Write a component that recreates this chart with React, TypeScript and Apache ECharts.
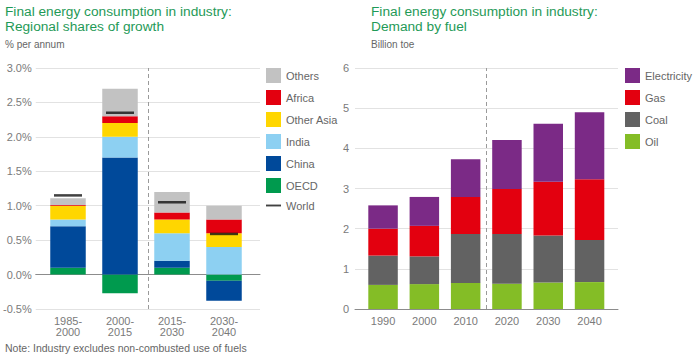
import React, { useEffect, useRef } from "react";
import * as echarts from "echarts";

// ---------- Left chart data: regional shares of growth (% per annum) ----------
const periods = ["1985-\n2000", "2000-\n2015", "2015-\n2030", "2030-\n2040"];
const oecd = [0.1, -0.27, 0.1, -0.09];
const china = [0.6, 1.7, 0.1, -0.29];
const india = [0.1, 0.3, 0.4, 0.4];
const otherAsia = [0.2, 0.2, 0.2, 0.2];
const africa = [0.01, 0.1, 0.1, 0.2];
const others = [0.1, 0.4, 0.3, 0.2];
const world = [1.15, 2.35, 1.05, 0.59];

// ---------- Right chart data: demand by fuel (billion toe) ----------
const years = ["1990", "2000", "2010", "2020", "2030", "2040"];
const oil = [0.6, 0.62, 0.65, 0.63, 0.66, 0.67];
const coal = [0.73, 0.69, 1.22, 1.24, 1.17, 1.05];
const gas = [0.67, 0.76, 0.92, 1.12, 1.34, 1.51];
const electricity = [0.58, 0.72, 0.94, 1.22, 1.44, 1.67];

// divider between history and projections, as a fraction of the plot width
const dividerFraction = 0.5;

const GREEN_TITLE = "#1f9a57";
const LABEL = "#7a7a7a";
const GRIDLINE = "#e2e2e2";
const AXISLINE = "#8c8c8c";
const FONT = "'Liberation Sans', Arial, sans-serif";

export default function App() {
  const ref = useRef<HTMLDivElement>(null);

  useEffect(() => {
    document.body.style.margin = "0";
    if (!ref.current) return;
    const chart = echarts.init(ref.current, null, { renderer: "svg" });

    const barCommon = (name: string, data: number[], color: string, xi: number, stack: string, width: number) => ({
      name,
      type: "bar",
      stack,
      data,
      xAxisIndex: xi,
      yAxisIndex: xi,
      barWidth: width,
      itemStyle: { color },
      emphasis: { disabled: true },
    });

    const option: any = {
      animation: false,
      textStyle: { fontFamily: FONT },
      title: [
        {
          text: "Final energy consumption in industry:\nRegional shares of growth",
          left: 5,
          top: 4,
          padding: 0,
          textStyle: { color: GREEN_TITLE, fontSize: 13.7, fontWeight: "normal", lineHeight: 15, fontFamily: FONT },
        },
        {
          text: "% per annum",
          left: 5,
          top: 39,
          padding: 0,
          textStyle: { color: "#666", fontSize: 10, fontWeight: "normal", fontFamily: FONT },
        },
        {
          text: "Final energy consumption in industry:\nDemand by fuel",
          left: 371,
          top: 4,
          padding: 0,
          textStyle: { color: GREEN_TITLE, fontSize: 13.7, fontWeight: "normal", lineHeight: 15, fontFamily: FONT },
        },
        {
          text: "Billion toe",
          left: 371,
          top: 39,
          padding: 0,
          textStyle: { color: "#666", fontSize: 10, fontWeight: "normal", fontFamily: FONT },
        },
        {
          text: "Note: Industry excludes non-combusted use of fuels",
          left: 5,
          top: 342,
          padding: 0,
          textStyle: { color: "#666", fontSize: 10.5, fontWeight: "normal", fontFamily: FONT },
        },
      ],
      legend: [
        {
          orient: "vertical",
          left: 266,
          top: 68,
          padding: 0,
          itemWidth: 15,
          itemHeight: 15,
          itemGap: 7,
          selectedMode: false,
          textStyle: { color: "#666", fontSize: 11, fontFamily: FONT },
          data: [
            { name: "Others", icon: "rect" },
            { name: "Africa", icon: "rect" },
            { name: "Other Asia", icon: "rect" },
            { name: "India", icon: "rect" },
            { name: "China", icon: "rect" },
            { name: "OECD", icon: "rect" },
            { name: "World", icon: "path://M0,0 L16,0 L16,2 L0,2 Z" },
          ],
        },
        {
          orient: "vertical",
          left: 625,
          top: 68,
          padding: 0,
          itemWidth: 15,
          itemHeight: 15,
          itemGap: 7,
          selectedMode: false,
          textStyle: { color: "#666", fontSize: 11, fontFamily: FONT },
          data: [
            { name: "Electricity", icon: "rect" },
            { name: "Gas", icon: "rect" },
            { name: "Coal", icon: "rect" },
            { name: "Oil", icon: "rect" },
          ],
        },
      ],
      grid: [
        // 0: left chart bars
        { left: 42, width: 208, top: 68, bottom: 50 },
        // 1: right chart bars
        { left: 362.4, width: 247.8, top: 68, bottom: 50 },
        // 2: left chart background (gridlines, zero line, divider)
        { left: 33, width: 227, top: 68, bottom: 50 },
        // 3: right chart background
        { left: 355, width: 263, top: 68, bottom: 50 },
      ],
      xAxis: [
        {
          type: "category",
          gridIndex: 0,
          data: periods,
          axisLine: { show: false },
          axisTick: { show: false },
          axisLabel: { color: LABEL, fontSize: 11, lineHeight: 11, margin: 6, fontFamily: FONT },
        },
        {
          type: "category",
          gridIndex: 1,
          data: years,
          axisLine: { show: false },
          axisTick: { show: false },
          axisLabel: { color: LABEL, fontSize: 11, margin: 6, fontFamily: FONT },
        },
        {
          type: "value",
          gridIndex: 2,
          min: 0,
          max: 1,
          axisLine: { show: true, onZero: true, lineStyle: { color: AXISLINE, width: 1 } },
          axisTick: { show: false },
          axisLabel: { show: false },
          splitLine: { show: false },
        },
        {
          type: "value",
          gridIndex: 3,
          min: 0,
          max: 1,
          axisLine: { show: true, onZero: true, lineStyle: { color: AXISLINE, width: 1 } },
          axisTick: { show: false },
          axisLabel: { show: false },
          splitLine: { show: false },
        },
      ],
      yAxis: [
        {
          type: "value",
          gridIndex: 0,
          min: -0.5,
          max: 3,
          interval: 0.5,
          axisLine: { show: false },
          axisTick: { show: false },
          axisLabel: { show: false },
          splitLine: { show: false },
        },
        {
          type: "value",
          gridIndex: 1,
          min: 0,
          max: 6,
          interval: 1,
          axisLine: { show: false },
          axisTick: { show: false },
          axisLabel: { show: false },
          splitLine: { show: false },
        },
        {
          type: "value",
          gridIndex: 2,
          min: -0.5,
          max: 3,
          interval: 0.5,
          axisLine: { show: false },
          axisTick: { show: false },
          axisLabel: {
            color: LABEL,
            fontSize: 11,
            margin: 4,
            fontFamily: FONT,
            formatter: (v: number) => v.toFixed(1) + "%",
          },
          splitLine: { show: true, lineStyle: { color: GRIDLINE, width: 1 } },
        },
        {
          type: "value",
          gridIndex: 3,
          min: 0,
          max: 6,
          interval: 1,
          axisLine: { show: false },
          axisTick: { show: false },
          axisLabel: { color: LABEL, fontSize: 11, margin: 6, fontFamily: FONT },
          splitLine: { show: true, lineStyle: { color: GRIDLINE, width: 1 } },
        },
      ],
      series: [
        // background helpers with the divider line
        {
          type: "line",
          xAxisIndex: 2,
          yAxisIndex: 2,
          data: [],
          silent: true,
          markLine: {
            silent: true,
            symbol: "none",
            label: { show: false },
            lineStyle: { color: "#9a9a9a", type: [4, 3], width: 1 },
            data: [{ xAxis: dividerFraction }],
          },
        },
        {
          type: "line",
          xAxisIndex: 3,
          yAxisIndex: 3,
          data: [],
          silent: true,
          markLine: {
            silent: true,
            symbol: "none",
            label: { show: false },
            lineStyle: { color: "#9a9a9a", type: [4, 3], width: 1 },
            data: [{ xAxis: dividerFraction }],
          },
        },
        // left stacked bars
        barCommon("OECD", oecd, "#009a4e", 0, "region", 35.5),
        barCommon("China", china, "#00499a", 0, "region", 35.5),
        barCommon("India", india, "#8dd0f2", 0, "region", 35.5),
        barCommon("Other Asia", otherAsia, "#ffd600", 0, "region", 35.5),
        barCommon("Africa", africa, "#e3000f", 0, "region", 35.5),
        barCommon("Others", others, "#c2c2c2", 0, "region", 35.5),
        {
          name: "World",
          type: "scatter",
          xAxisIndex: 0,
          yAxisIndex: 0,
          data: world,
          symbol: "rect",
          symbolSize: [28, 2.5],
          itemStyle: { color: "#111111" },
          z: 5,
          emphasis: { disabled: true },
        },
        // right stacked bars
        barCommon("Oil", oil, "#84bd26", 1, "fuel", 29.5),
        barCommon("Coal", coal, "#626262", 1, "fuel", 29.5),
        barCommon("Gas", gas, "#e3000f", 1, "fuel", 29.5),
        barCommon("Electricity", electricity, "#7b2a86", 1, "fuel", 29.5),
      ],
    };

    chart.setOption(option);
    return () => chart.dispose();
  }, []);

  return <div ref={ref} style={{ width: 695, height: 359 }} />;
}
